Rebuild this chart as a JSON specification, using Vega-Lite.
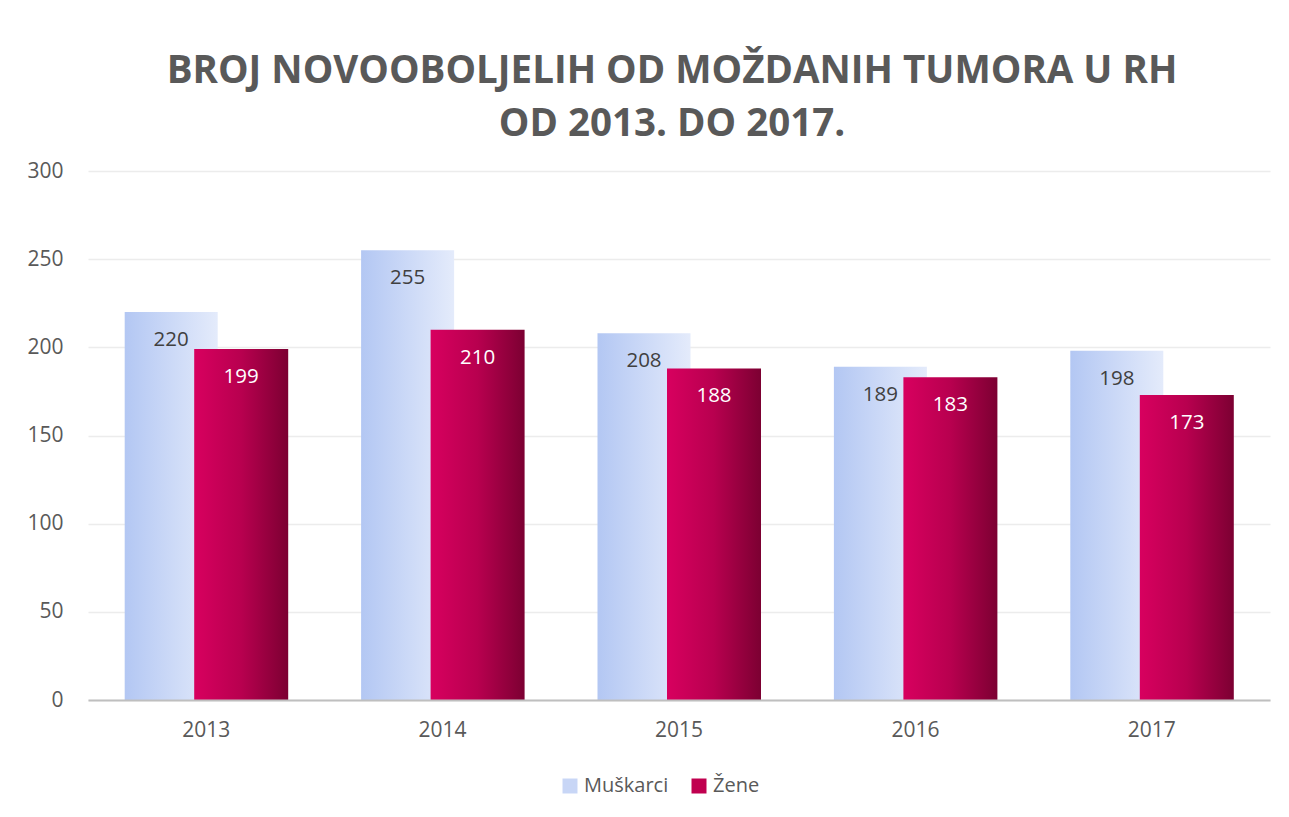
{
  "$schema": "https://vega.github.io/schema/vega-lite/v6.json",
  "width": 1182,
  "height": 529,
  "autosize": {"type": "none"},
  "padding": {"left": 88, "top": 171, "right": 19, "bottom": 117},
  "background": "white",
  "title": {
    "text": ["BROJ NOVOOBOLJELIH OD MOŽDANIH TUMORA U RH", "OD 2013. DO 2017."],
    "font": "Open Sans",
    "fontSize": 38.5,
    "fontWeight": "bold",
    "color": "#595959",
    "lineHeight": 53,
    "offset": 16,
    "dx": -7
  },
  "config": {"view": {"stroke": null}},
  "data": {
    "values": [
      {"year": "2013", "sex": "Muškarci", "value": 220},
      {"year": "2013", "sex": "Žene", "value": 199},
      {"year": "2014", "sex": "Muškarci", "value": 255},
      {"year": "2014", "sex": "Žene", "value": 210},
      {"year": "2015", "sex": "Muškarci", "value": 208},
      {"year": "2015", "sex": "Žene", "value": 188},
      {"year": "2016", "sex": "Muškarci", "value": 189},
      {"year": "2016", "sex": "Žene", "value": 183},
      {"year": "2017", "sex": "Muškarci", "value": 198},
      {"year": "2017", "sex": "Žene", "value": 173}
    ]
  },
  "encoding": {
    "x": {
      "field": "year",
      "type": "nominal",
      "scale": {"paddingInner": 0, "paddingOuter": 0},
      "axis": {
        "title": null,
        "labelAngle": 0,
        "ticks": false,
        "grid": false,
        "domainColor": "#bfbfbf",
        "domainWidth": 2,
        "labelPadding": 19,
        "labelFont": "Open Sans",
        "labelFontSize": 21,
        "labelColor": "#595959",
        "zindex": 1
      }
    },
    "y": {
      "field": "value",
      "type": "quantitative",
      "scale": {"domain": [0, 300]},
      "axis": {
        "title": null,
        "values": [0, 50, 100, 150, 200, 250, 300],
        "domain": false,
        "ticks": false,
        "labelPadding": 25,
        "labelFont": "Open Sans",
        "labelFontSize": 21,
        "labelColor": "#595959",
        "gridColor": "#ececec",
        "gridWidth": 1.5
      }
    }
  },
  "layer": [
    {
      "transform": [{"filter": {"field": "sex", "equal": "Muškarci"}}],
      "mark": {
        "type": "bar", "size": 93, "xOffset": -35,
        "color": {"gradient": "linear", "x1": 0, "y1": 0, "x2": 1, "y2": 0, "stops": [{"offset": 0, "color": "#b3c7f3"}, {"offset": 1, "color": "#e4ebfb"}]}
      }
    },
    {
      "transform": [{"filter": {"field": "sex", "equal": "Žene"}}],
      "mark": {
        "type": "bar", "size": 94, "xOffset": 35,
        "color": {"gradient": "linear", "x1": 0, "y1": 0, "x2": 1, "y2": 0, "stops": [{"offset": 0, "color": "#d8005f"}, {"offset": 0.5, "color": "#b8004f"}, {"offset": 1, "color": "#7c0032"}]}
      }
    },
    {
      "mark": {"type": "bar", "size": 1},
      "encoding": {
        "y": {"datum": 0},
        "color": {
          "field": "sex",
          "type": "nominal",
          "scale": {"domain": ["Muškarci", "Žene"], "range": ["#c8d6f6", "#c0004f"]},
          "legend": {
            "title": null,
            "orient": "none",
            "legendX": 472,
            "legendY": 605,
            "direction": "horizontal",
            "symbolType": "square",
            "symbolSize": 225,
            "symbolStrokeWidth": 0,
            "labelFont": "Open Sans",
            "labelFontSize": 20,
            "labelColor": "#595959",
            "columnPadding": 20
          }
        }
      }
    },
    {
      "transform": [{"filter": {"field": "sex", "equal": "Muškarci"}}],
      "mark": {"type": "text", "xOffset": -35, "dy": 28, "baseline": "middle", "font": "Open Sans", "fontSize": 20.5, "color": "#404040"},
      "encoding": {"text": {"field": "value", "type": "quantitative"}}
    },
    {
      "transform": [{"filter": {"field": "sex", "equal": "Žene"}}],
      "mark": {"type": "text", "xOffset": 35, "dy": 28, "baseline": "middle", "font": "Open Sans", "fontSize": 20.5, "color": "#ffffff"},
      "encoding": {"text": {"field": "value", "type": "quantitative"}}
    }
  ]
}
